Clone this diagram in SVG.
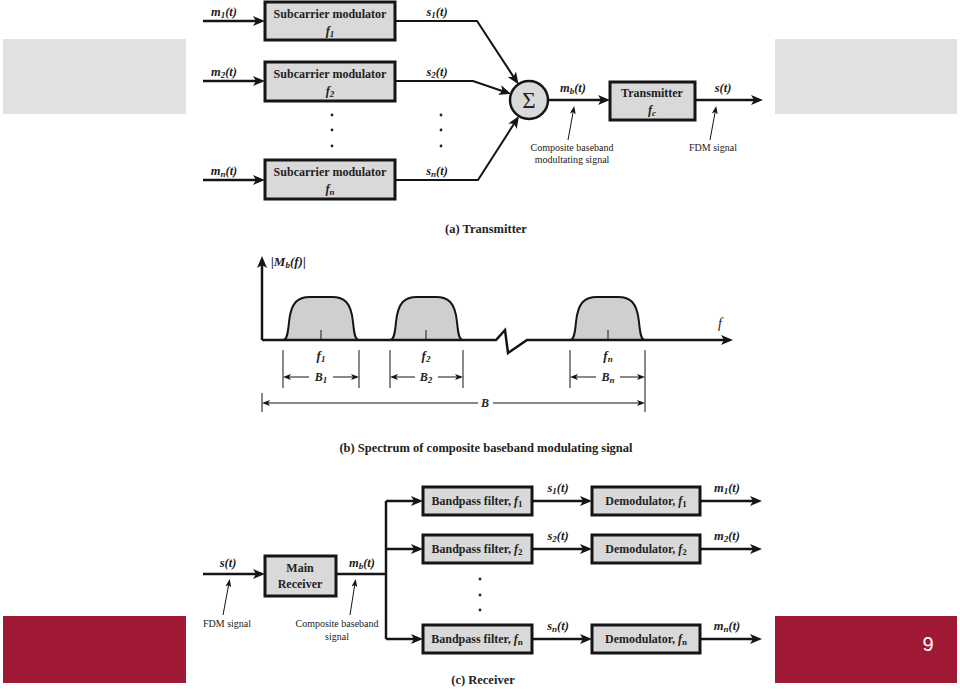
<svg xmlns="http://www.w3.org/2000/svg" width="960" height="689" viewBox="0 0 960 689">
<defs>
<style>
.box{fill:#d9d9d9;stroke:#151515;stroke-width:3}
.lbl{font-family:"Liberation Serif",serif;font-weight:bold;font-size:12px;text-anchor:middle;fill:#222}
.sig{font-family:"Liberation Serif",serif;font-style:italic;font-weight:bold;font-size:12.5px;text-anchor:middle;fill:#222}
.spec{font-family:"Liberation Serif",serif;font-style:italic;font-size:13px;text-anchor:middle;fill:#222}
.bold{font-weight:bold}
.sub{font-size:9px}
.ann{font-family:"Liberation Serif",serif;font-size:10px;text-anchor:middle;fill:#222}
.cap{font-family:"Liberation Serif",serif;font-weight:bold;font-size:12.5px;text-anchor:middle;fill:#222}
.wire{stroke:#151515;stroke-width:2.5;fill:none}
.mid{stroke:#151515;stroke-width:2;fill:none}
.thin{stroke:#151515;stroke-width:1;fill:none}
.dot{fill:#222}
.pulse{fill:#cfcfcf;stroke:#151515;stroke-width:2}
</style>
<marker id="ah" markerUnits="userSpaceOnUse" markerWidth="13" markerHeight="10" refX="5" refY="5" orient="auto"><path d="M0,0 L12,5 L0,10 L3,5 z" fill="#151515"/></marker>
<marker id="as" markerUnits="userSpaceOnUse" markerWidth="9" markerHeight="6" refX="4" refY="3" orient="auto"><path d="M0,0 L8,3 L0,6 L2,3 z" fill="#151515"/></marker>
</defs>
<rect width="960" height="689" fill="#ffffff"/>
<g id="panels">
<rect x="3" y="39" width="183" height="75" fill="#e2e2e2"/>
<rect x="775" y="39" width="182" height="75" fill="#e2e2e2"/>
<rect x="3" y="616" width="183" height="67" fill="#a01a35"/>
<rect x="775" y="616" width="182" height="67" fill="#a01a35"/>
<text x="928" y="651" font-family="Liberation Sans, Arial, sans-serif" font-size="20" fill="#ffffff" text-anchor="middle">9</text>
</g>
<g id="connectors">
<path class="wire" d="M203,21 L258,21" marker-end="url(#ah)"/>
<path class="wire" d="M203,81 L258,81" marker-end="url(#ah)"/>
<path class="wire" d="M203,180 L258,180" marker-end="url(#ah)"/>
<path class="mid" d="M395,21 L477,21 L514.6,78.4" marker-end="url(#ah)"/>
<path class="mid" d="M395,81 L473,81 L504.4,91.7" marker-end="url(#ah)"/>
<path class="mid" d="M395,180 L478,180 L515.2,122" marker-end="url(#ah)"/>
<path class="wire" d="M548,100 L603,100" marker-end="url(#ah)"/>
<path class="wire" d="M695,100 L756,100" marker-end="url(#ah)"/>
<path class="thin" d="M568,140 L573.5,110" marker-end="url(#as)"/>
<path class="thin" d="M710,140 L715.5,110" marker-end="url(#as)"/>
<path class="wire" d="M203,574 L258,574" marker-end="url(#ah)"/>
<path class="wire" d="M336,574 L386,574"/>
<path class="wire" d="M386,501 L386,639"/>
<path class="wire" d="M386,501 L416,501" marker-end="url(#ah)"/>
<path class="wire" d="M386,549 L416,549" marker-end="url(#ah)"/>
<path class="wire" d="M386,639 L416,639" marker-end="url(#ah)"/>
<path class="wire" d="M532,501 L585,501" marker-end="url(#ah)"/>
<path class="wire" d="M532,549 L585,549" marker-end="url(#ah)"/>
<path class="wire" d="M532,639 L585,639" marker-end="url(#ah)"/>
<path class="wire" d="M700,501 L755,501" marker-end="url(#ah)"/>
<path class="wire" d="M700,549 L755,549" marker-end="url(#ah)"/>
<path class="wire" d="M700,639 L755,639" marker-end="url(#ah)"/>
<path class="thin" d="M223,615 L229,583" marker-end="url(#as)"/>
<path class="thin" d="M350,615 L355,583" marker-end="url(#as)"/>
</g>
<g id="mod1">
<rect class="box" x="265" y="2" width="130" height="38"/>
<text class="lbl" x="330" y="18">Subcarrier modulator</text>
<text class="sig" x="330" y="35">f<tspan class="sub" dy="2">1</tspan></text>
</g>
<g id="mod2">
<rect class="box" x="265" y="62" width="130" height="39"/>
<text class="lbl" x="330" y="78">Subcarrier modulator</text>
<text class="sig" x="330" y="95">f<tspan class="sub" dy="2">2</tspan></text>
</g>
<g id="modn">
<rect class="box" x="265" y="160" width="130" height="39"/>
<text class="lbl" x="330" y="176">Subcarrier modulator</text>
<text class="sig" x="330" y="193">f<tspan class="sub" dy="2">n</tspan></text>
</g>
<g id="sum">
<circle cx="529" cy="100" r="19" fill="#d9d9d9" stroke="#151515" stroke-width="2.5"/>
<text x="529" y="108" font-family="Liberation Serif, serif" font-size="23" text-anchor="middle" fill="#222">Σ</text>
</g>
<g id="transmitter">
<rect class="box" x="610" y="82" width="85" height="38"/>
<text class="lbl" x="652" y="97">Transmitter</text>
<text class="sig" x="652" y="114">f<tspan class="sub" dy="2">c</tspan></text>
</g>
<g id="tx-labels">
<text class="sig" x="224" y="16">m<tspan class="sub" dy="2">1</tspan><tspan dy="-2">(t)</tspan></text>
<text class="sig" x="224" y="76">m<tspan class="sub" dy="2">2</tspan><tspan dy="-2">(t)</tspan></text>
<text class="sig" x="224" y="175">m<tspan class="sub" dy="2">n</tspan><tspan dy="-2">(t)</tspan></text>
<text class="sig" x="437" y="16">s<tspan class="sub" dy="2">1</tspan><tspan dy="-2">(t)</tspan></text>
<text class="sig" x="437" y="76">s<tspan class="sub" dy="2">2</tspan><tspan dy="-2">(t)</tspan></text>
<text class="sig" x="437" y="175">s<tspan class="sub" dy="2">n</tspan><tspan dy="-2">(t)</tspan></text>
<text class="sig" x="573" y="92">m<tspan class="sub" dy="2">b</tspan><tspan dy="-2">(t)</tspan></text>
<text class="sig" x="723" y="92">s(t)</text>
<text class="ann" x="572" y="151">Composite baseband</text>
<text class="ann" x="572" y="163">modultating signal</text>
<text class="ann" x="713" y="151">FDM signal</text>
<circle class="dot" cx="332" cy="115" r="1.4"/><circle class="dot" cx="332" cy="130" r="1.4"/><circle class="dot" cx="332" cy="146" r="1.4"/>
<circle class="dot" cx="441" cy="115" r="1.4"/><circle class="dot" cx="441" cy="130" r="1.4"/><circle class="dot" cx="441" cy="146" r="1.4"/>
<text class="cap" x="486" y="233">(a) Transmitter</text>
</g>
<g id="spectrum">
<path class="pulse" d="M283,340 C287,340 288,333 289,322 C291,302 298,297 310,297 L332,297 C344,297 351,302 353,322 C354,333 355,340 359,340 Z"/>
<path class="pulse" d="M390,340 C394,340 395,333 396,322 C398,302 405,297 417,297 L436,297 C448,297 455,302 457,322 C458,333 459,340 463,340 Z"/>
<path class="pulse" d="M570,340 C574,340 575,333 576,322 C578,302 585,297 597,297 L618,297 C630,297 637,302 639,322 C640,333 641,340 645,340 Z"/>
<path class="thin" d="M321,330 L321,340 M426,330 L426,340 M608,330 L608,340"/>
<path class="wire" d="M262,340 L262,263" marker-end="url(#ah)"/>
<path class="wire" d="M262,340 L496,340 L505,330 L508,353 L527,340 L726,340" marker-end="url(#ah)"/>
<text class="spec bold" x="271" y="266" style="text-anchor:start">|M<tspan class="sub" dy="2">b</tspan><tspan dy="-2">(f)|</tspan></text>
<text class="spec" x="720" y="328" style="font-size:14px">f</text>
<text class="spec bold" x="321" y="360">f<tspan class="sub" dy="2">1</tspan></text>
<text class="spec bold" x="426" y="360">f<tspan class="sub" dy="2">2</tspan></text>
<text class="spec bold" x="608" y="360">f<tspan class="sub" dy="2">n</tspan></text>
<path class="thin" d="M283,350 L283,388 M359,350 L359,388 M390,350 L390,388 M463,350 L463,388 M570,350 L570,388 M645,350 L645,412 M262,393 L262,412"/>
<path class="thin" d="M309,377 L287,377" marker-end="url(#as)"/>
<path class="thin" d="M333,377 L355,377" marker-end="url(#as)"/>
<path class="thin" d="M415,377 L394,377" marker-end="url(#as)"/>
<path class="thin" d="M438,377 L459,377" marker-end="url(#as)"/>
<path class="thin" d="M596,377 L574,377" marker-end="url(#as)"/>
<path class="thin" d="M620,377 L641,377" marker-end="url(#as)"/>
<path class="thin" d="M478,403 L266,403" marker-end="url(#as)"/>
<path class="thin" d="M493,403 L641,403" marker-end="url(#as)"/>
<text class="spec bold" x="321" y="381" style="font-size:12px">B<tspan class="sub" dy="2">1</tspan></text>
<text class="spec bold" x="426" y="381" style="font-size:12px">B<tspan class="sub" dy="2">2</tspan></text>
<text class="spec bold" x="608" y="381" style="font-size:12px">B<tspan class="sub" dy="2">n</tspan></text>
<text class="spec bold" x="485" y="407" style="font-size:12px">B</text>
<text class="cap" x="486" y="452">(b) Spectrum of composite baseband modulating signal</text>
</g>
<g id="main-receiver">
<rect class="box" x="265" y="556" width="71" height="40"/>
<text class="lbl" x="300" y="572">Main</text>
<text class="lbl" x="300" y="588">Receiver</text>
</g>
<g id="bpf1"><rect class="box" x="423" y="487" width="109" height="28"/><text class="lbl" x="477" y="505">Bandpass filter, <tspan font-style="italic">f</tspan><tspan class="sub" dy="2">1</tspan></text></g>
<g id="bpf2"><rect class="box" x="423" y="535" width="109" height="28"/><text class="lbl" x="477" y="553">Bandpass filter, <tspan font-style="italic">f</tspan><tspan class="sub" dy="2">2</tspan></text></g>
<g id="bpfn"><rect class="box" x="423" y="625" width="109" height="28"/><text class="lbl" x="477" y="643">Bandpass filter, <tspan font-style="italic">f</tspan><tspan class="sub" dy="2">n</tspan></text></g>
<g id="dem1"><rect class="box" x="592" y="487" width="108" height="28"/><text class="lbl" x="646" y="505">Demodulator, <tspan font-style="italic">f</tspan><tspan class="sub" dy="2">1</tspan></text></g>
<g id="dem2"><rect class="box" x="592" y="535" width="108" height="28"/><text class="lbl" x="646" y="553">Demodulator, <tspan font-style="italic">f</tspan><tspan class="sub" dy="2">2</tspan></text></g>
<g id="demn"><rect class="box" x="592" y="625" width="108" height="28"/><text class="lbl" x="646" y="643">Demodulator, <tspan font-style="italic">f</tspan><tspan class="sub" dy="2">n</tspan></text></g>
<g id="rx-labels">
<text class="sig" x="228" y="567">s(t)</text>
<text class="sig" x="362" y="567">m<tspan class="sub" dy="2">b</tspan><tspan dy="-2">(t)</tspan></text>
<text class="ann" x="227" y="627">FDM signal</text>
<text class="ann" x="337" y="627">Composite baseband</text>
<text class="ann" x="337" y="640">signal</text>
<text class="sig" x="558" y="492">s<tspan class="sub" dy="2">1</tspan><tspan dy="-2">(t)</tspan></text>
<text class="sig" x="558" y="540">s<tspan class="sub" dy="2">2</tspan><tspan dy="-2">(t)</tspan></text>
<text class="sig" x="558" y="630">s<tspan class="sub" dy="2">n</tspan><tspan dy="-2">(t)</tspan></text>
<text class="sig" x="727" y="492">m<tspan class="sub" dy="2">1</tspan><tspan dy="-2">(t)</tspan></text>
<text class="sig" x="727" y="540">m<tspan class="sub" dy="2">2</tspan><tspan dy="-2">(t)</tspan></text>
<text class="sig" x="727" y="630">m<tspan class="sub" dy="2">n</tspan><tspan dy="-2">(t)</tspan></text>
<circle class="dot" cx="480" cy="579" r="1.4"/><circle class="dot" cx="480" cy="595" r="1.4"/><circle class="dot" cx="480" cy="610" r="1.4"/>
<text class="cap" x="483" y="684">(c) Receiver</text>
</g>
</svg>
